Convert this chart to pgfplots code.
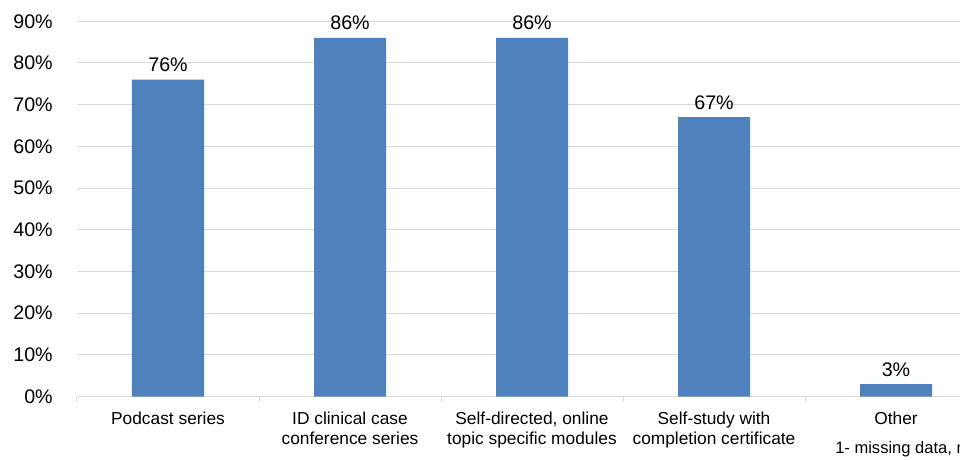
\documentclass[border=0pt]{standalone}
\usepackage{pgfplots}
\pgfplotsset{compat=1.18}
\usepackage{fontspec}
\setmainfont{Liberation Sans}
\definecolor{barblue}{HTML}{4F81BD}
\definecolor{gridgray}{HTML}{D9D9D9}
\begin{document}
\begin{tikzpicture}
\useasboundingbox (0,0) rectangle (720pt,345pt);
\clip (0,0) rectangle (720pt,345pt);
\begin{axis}[
  at={(57.75pt,47.55pt)}, anchor=south west,
  scale only axis, width=682.5pt, height=281.5pt,
  xmin=-0.5, xmax=4.5, ymin=0, ymax=90,
  axis line style={draw=none},
  ymajorgrids, grid style={gridgray, line width=0.75pt},
  ytick={0,10,...,90},
  yticklabels={0\%,10\%,20\%,30\%,40\%,50\%,60\%,70\%,80\%,90\%},
  ytick pos=left, xtick pos=lower,
  xtick={0,1,2,3,4},
  xticklabels={Podcast series,
    ID clinical case\\conference series,
    Self-directed{,} online\\topic specific modules,
    Self-study with\\completion certificate,
    Other},
  minor xtick={-0.5,0.5,1.5,2.5,3.5,4.5},
  major tick length=0pt, minor tick length=3.75pt,
  tick align=outside,
  minor tick style={gridgray, line width=0.75pt},
  yticklabel style={font=\fontsize{14.75pt}{17pt}\selectfont, anchor=east, inner sep=0pt, xshift=-18pt},
  xticklabel style={font=\fontsize{13pt}{15pt}\selectfont, align=center, anchor=north, inner sep=0pt, yshift=-11pt},
  ybar, bar width=54pt,
  nodes near coords={\pgfmathprintnumber[assume math mode=true]{\pgfplotspointmeta}\%},
  every node near coord/.append style={font=\fontsize{14.75pt}{17pt}\selectfont, anchor=base, inner sep=0pt, yshift=6pt, text=black},
]
\addplot[fill=barblue, draw=none] coordinates {(0,76) (1,86) (2,86) (3,67) (4,3)};
\end{axis}
% footnote runs past the right edge of the page
\node[anchor=base west, inner sep=0pt, font=\fontsize{12.4pt}{15pt}\selectfont] at (626.25pt,4.5pt) {1- missing data, n};
\end{tikzpicture}
\end{document}
